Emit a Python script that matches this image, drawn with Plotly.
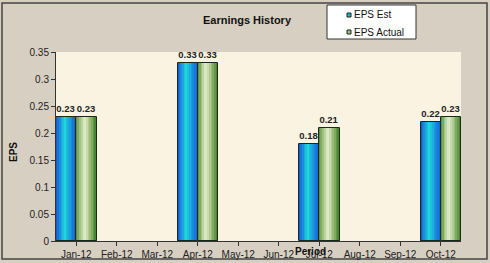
import plotly.graph_objects as go

categories = ["Jan-12", "Feb-12", "Mar-12", "Apr-12", "May-12", "Jun-12",
              "Jul-12", "Aug-12", "Sep-12", "Oct-12"]
eps_est = [0.23, None, None, 0.33, None, None, 0.18, None, None, 0.22]
eps_actual = [0.23, None, None, 0.33, None, None, 0.21, None, None, 0.23]
series_names = ["EPS Est", "EPS Actual"]
y_ticks = [0, 0.05, 0.1, 0.15, 0.2, 0.25, 0.3, 0.35]
y_tick_labels = ["0", "0.05", "0.1", "0.15", "0.2", "0.25", "0.3", "0.35"]

W, H = 490, 263
L, R, T, B = 56, 29, 52, 22
PW, PH = W - L - R, H - T - B

def px2x(px):
    return (px - L) / PW

def px2y(py):
    return (H - B - py) / PH

def hex2rgb(h):
    h = h.lstrip("#")
    return tuple(int(h[i:i + 2], 16) for i in (0, 2, 4))

def grad(stops, n):
    out = []
    for i in range(n):
        t = (i + 0.5) / n
        for j in range(len(stops) - 1):
            p0, c0 = stops[j]
            p1, c1 = stops[j + 1]
            if p0 <= t <= p1:
                f = (t - p0) / (p1 - p0)
                a, b = hex2rgb(c0), hex2rgb(c1)
                out.append("rgb(%d,%d,%d)" % tuple(round(a[k] + (b[k] - a[k]) * f) for k in range(3)))
                break
    return out

N = 12
blue_cols = grad([(0, "#1650c8"), (0.2, "#1a8ae0"), (0.45, "#1fd8d8"), (0.75, "#1a90e0"), (1, "#1560d0")], N)
green_cols = grad([(0, "#4e8236"), (0.2, "#9cc07a"), (0.42, "#e6efd4"), (0.7, "#9cbf78"), (1, "#3d7a2a")], N)

fig = go.Figure()
xs = list(range(len(categories)))
sw = 0.5 / N
for vals, cols, start in [(eps_est, blue_cols, -0.5), (eps_actual, green_cols, 0.0)]:
    for i, c in enumerate(cols):
        fig.add_trace(go.Bar(x=xs, y=vals, width=sw * 1.1, offset=start + i * sw,
                             marker=dict(color=c, line=dict(width=0)),
                             showlegend=False, hoverinfo="skip"))
    fig.add_trace(go.Bar(x=xs, y=vals, width=0.5, offset=start,
                         marker=dict(color="rgba(0,0,0,0)", line=dict(color="#1a2a1a", width=1)),
                         text=[None if v is None else "<b>%.2f</b>" % v for v in vals],
                         textposition="outside", cliponaxis=False, constraintext="none",
                         textfont=dict(family="Liberation Sans", size=9.5, color="#222222"),
                         showlegend=False, hoverinfo="skip"))

fig.update_layout(
    width=W, height=H,
    margin=dict(l=L, r=R, t=T, b=B, autoexpand=False),
    barmode="overlay", bargap=0,
    paper_bgcolor="#d7d0c2",
    plot_bgcolor="#fbf3e1",
    font=dict(family="Liberation Sans", size=10, color="#222222"),
    title=dict(text="<b>Earnings History</b>", x=247 / W, xanchor="center",
               y=1 - 20 / H, yanchor="middle", xref="container", yref="container",
               font=dict(size=11, color="#111111")),
    showlegend=False,
    xaxis=dict(tickmode="array", tickvals=xs, ticktext=categories, tickangle=0,
               range=[-0.5, len(categories) - 0.5], showgrid=False,
               showline=True, linecolor="#333333", linewidth=1,
               ticks="outside", ticklen=4, tickcolor="#333333",
               tickson="boundaries", zeroline=False,
               tickfont=dict(size=10)),
    yaxis=dict(range=[0, 0.35], tickvals=y_ticks, ticktext=y_tick_labels,
               showgrid=False, showline=True, linecolor="#333333", linewidth=1,
               ticks="outside", ticklen=4, tickcolor="#333333", zeroline=False,
               tickfont=dict(size=10)),
)
fig.add_annotation(text="<b>EPS</b>", textangle=-90, xref="paper", yref="paper",
                   x=px2x(13), y=px2y(152), xanchor="center", yanchor="middle",
                   showarrow=False, font=dict(size=10, color="#111111"))
fig.add_annotation(text="<b>Period</b>", xref="paper", yref="paper",
                   x=px2x(310), y=px2y(251), xanchor="center", yanchor="middle",
                   showarrow=False, font=dict(size=10, color="#111111"))
# outer border
fig.add_shape(type="rect", xref="paper", yref="paper",
              x0=px2x(2), x1=px2x(487), y0=px2y(259), y1=px2y(3),
              line=dict(color="#444444", width=1.5), fillcolor="rgba(0,0,0,0)", layer="below")
# legend box
fig.add_shape(type="rect", xref="paper", yref="paper",
              x0=px2x(327), x1=px2x(416), y0=px2y(39), y1=px2y(5),
              line=dict(color="#333333", width=1), fillcolor="white", layer="above")
leg_colors = ["#1fb0e0", "#9cc07a"]
for k, (nm, col) in enumerate(zip(series_names, leg_colors)):
    cy = 15 + 17 * k
    fig.add_shape(type="rect", xref="paper", yref="paper",
                  x0=px2x(347), x1=px2x(351), y0=px2y(cy + 2), y1=px2y(cy - 2),
                  line=dict(color="#1a2a1a", width=1), fillcolor=col, layer="above")
    fig.add_annotation(text=nm, xref="paper", yref="paper", x=px2x(352), y=px2y(cy),
                       xanchor="left", yanchor="middle", showarrow=False,
                       font=dict(size=10, color="#111111"))
fig.write_html("out.html")
